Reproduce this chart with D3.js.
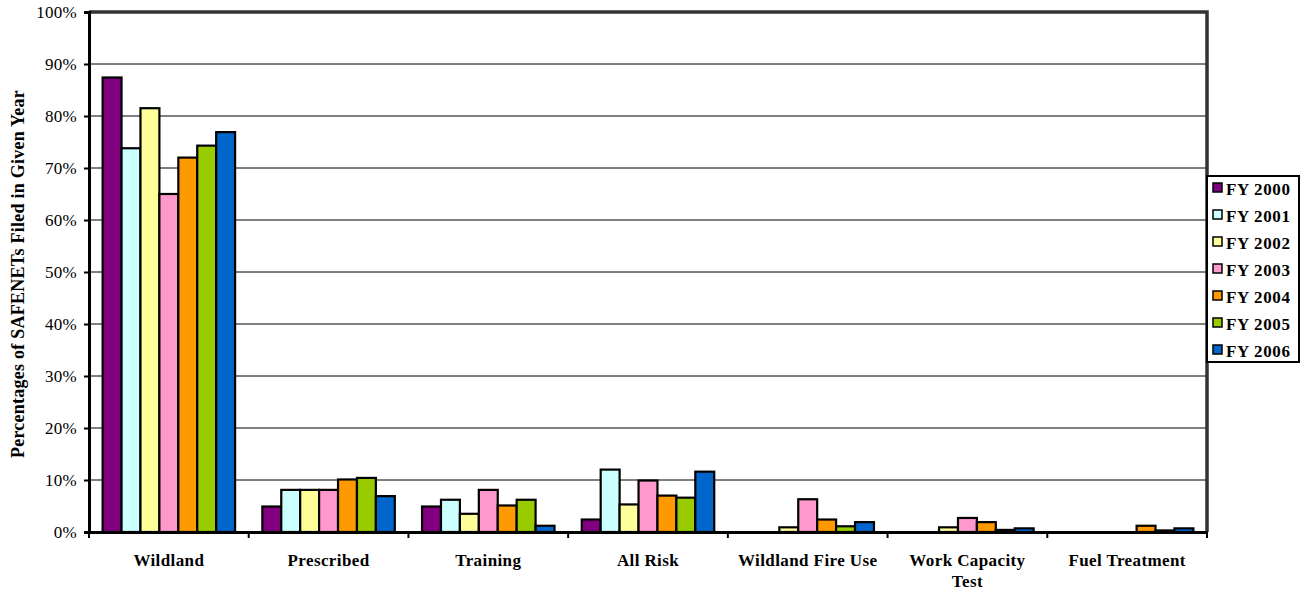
<!DOCTYPE html>
<html>
<head>
<meta charset="utf-8">
<script src="https://cdn.jsdelivr.net/npm/d3@7"></script>
<style>
  body { margin: 0; background: #fff; }
</style>
</head>
<body>
<svg id="chart" width="1310" height="593"></svg>
<script>
const categories = ['Wildland', 'Prescribed', 'Training', 'All Risk', 'Wildland Fire Use', 'Work Capacity Test', 'Fuel Treatment'];
const years = ['FY 2000', 'FY 2001', 'FY 2002', 'FY 2003', 'FY 2004', 'FY 2005', 'FY 2006'];
const colors = ['#800080', '#CCFFFF', '#FFFF99', '#FF99CC', '#FF9900', '#99CC00', '#0066CC'];

// percentage values per year, one entry per category
const fy2000 = [87.4, 4.9, 4.9, 2.4, 0, 0, 0];
const fy2001 = [73.8, 8.1, 6.2, 12.0, 0, 0, 0];
const fy2002 = [81.5, 8.1, 3.5, 5.3, 0.9, 0.9, 0];
const fy2003 = [65.0, 8.1, 8.1, 9.9, 6.3, 2.7, 0];
const fy2004 = [72.0, 10.1, 5.1, 7.0, 2.4, 1.9, 1.2];
const fy2005 = [74.3, 10.4, 6.2, 6.6, 1.1, 0.4, 0.3];
const fy2006 = [76.9, 6.9, 1.2, 11.6, 1.9, 0.7, 0.7];
const series = [fy2000, fy2001, fy2002, fy2003, fy2004, fy2005, fy2006];

const yTicks = [0, 10, 20, 30, 40, 50, 60, 70, 80, 90, 100];

const FONT = '"Liberation Serif", "Times New Roman", Times, serif';

const svg = d3.select('#chart');
const plotLeft = 89;
const plotRight = 1207;
const plotTop = 12;
const plotBottom = 532;

const x0 = d3.scaleBand().domain(categories).range([plotLeft, plotRight]).padding(0);
const x1 = d3.scaleBand().domain(years).range([0, x0.bandwidth()]).paddingInner(0).paddingOuter(0.72);
const y = d3.scaleLinear().domain([0, 100]).range([plotBottom, plotTop]);
const color = d3.scaleOrdinal().domain(years).range(colors);

// gridlines
svg.append('g')
  .selectAll('line')
  .data(yTicks.filter(d => d > 0 && d < 100))
  .enter()
  .append('line')
  .attr('x1', plotLeft)
  .attr('x2', plotRight)
  .attr('y1', d => y(d))
  .attr('y2', d => y(d))
  .attr('stroke', '#000')
  .attr('stroke-width', 1);

// top and right frame
svg.append('path')
  .attr('d', `M${plotLeft},${plotTop}H${plotRight}V${plotBottom}`)
  .attr('fill', 'none')
  .attr('stroke', '#333')
  .attr('stroke-width', 3.5);

// bars
const groups = svg.append('g')
  .selectAll('g')
  .data(categories)
  .enter()
  .append('g')
  .attr('transform', d => `translate(${x0(d)},0)`);

groups.selectAll('rect')
  .data((c, i) => years.map((yr, j) => ({ yr, v: series[j][i] })).filter(d => d.v > 0))
  .enter()
  .append('rect')
  .attr('x', d => x1(d.yr))
  .attr('width', x1.bandwidth())
  .attr('y', d => y(d.v))
  .attr('height', d => y(0) - y(d.v))
  .attr('fill', d => color(d.yr))
  .attr('stroke', '#000')
  .attr('stroke-width', 2.2);

// y axis
const yAxis = svg.append('g')
  .attr('transform', `translate(${plotLeft},0)`)
  .call(d3.axisLeft(y).tickValues(yTicks).tickFormat(d => `${d}%`).tickSize(5).tickPadding(7));
yAxis.attr('font-family', null);
yAxis.select('.domain').attr('stroke', '#000').attr('stroke-width', 3);
yAxis.selectAll('.tick line').attr('stroke', '#000').attr('stroke-width', 2);
yAxis.selectAll('.tick text')
  .attr('font-family', FONT)
  .attr('font-size', 17)
  .attr('letter-spacing', 0.3)
  .attr('fill', '#000');

// x axis
const xAxis = svg.append('g')
  .attr('transform', `translate(0,${plotBottom})`)
  .call(d3.axisBottom(x0).tickSize(0).tickPadding(0).tickFormat(''));
xAxis.select('.domain').attr('stroke', '#000').attr('stroke-width', 3);

svg.append('g')
  .selectAll('line')
  .data(categories.concat(['end']))
  .enter()
  .append('line')
  .attr('x1', (d, i) => plotLeft + i * x0.step())
  .attr('x2', (d, i) => plotLeft + i * x0.step())
  .attr('y1', plotBottom)
  .attr('y2', plotBottom + 6)
  .attr('stroke', '#000')
  .attr('stroke-width', 2);

// category labels (wrap the long one)
const labelLines = { 'Work Capacity Test': ['Work Capacity', 'Test'] };
const labels = svg.append('g')
  .selectAll('text')
  .data(categories)
  .enter()
  .append('text')
  .attr('x', d => x0(d) + x0.bandwidth() / 2)
  .attr('y', 566)
  .attr('text-anchor', 'middle')
  .attr('font-family', FONT)
  .attr('font-size', 17)
  .attr('letter-spacing', 0.4)
  .attr('font-weight', 'bold');
labels.each(function (d) {
  const lines = labelLines[d] || [d];
  const t = d3.select(this);
  lines.forEach((ln, i) => {
    t.append('tspan')
      .attr('x', x0(d) + x0.bandwidth() / 2)
      .attr('dy', i === 0 ? 0 : 21)
      .text(ln);
  });
});

// y title
svg.append('text')
  .attr('transform', `translate(24,${(plotTop + plotBottom) / 2 + 2})rotate(-90)`)
  .attr('text-anchor', 'middle')
  .attr('font-family', FONT)
  .attr('font-size', 18)
  .attr('letter-spacing', 0.25)
  .attr('font-weight', 'bold')
  .text('Percentages of SAFENETs Filed in Given Year');

// legend
const legend = svg.append('g').attr('transform', 'translate(1207,176)');
legend.append('rect')
  .attr('width', 92)
  .attr('height', 186)
  .attr('fill', '#fff')
  .attr('stroke', '#000')
  .attr('stroke-width', 2);

const item = legend.selectAll('g.item')
  .data(years)
  .enter()
  .append('g')
  .attr('class', 'item')
  .attr('transform', (d, i) => `translate(6,${16 + i * 27})`);
item.append('rect')
  .attr('x', 0)
  .attr('y', -9)
  .attr('width', 9)
  .attr('height', 9)
  .attr('fill', d => color(d))
  .attr('stroke', '#000')
  .attr('stroke-width', 1.5);
item.append('text')
  .attr('x', 13)
  .attr('y', 3)
  .attr('font-family', FONT)
  .attr('font-size', 17)
  .attr('letter-spacing', 0.6)
  .attr('font-weight', 'bold')
  .text(d => d);
</script>
</body>
</html>
